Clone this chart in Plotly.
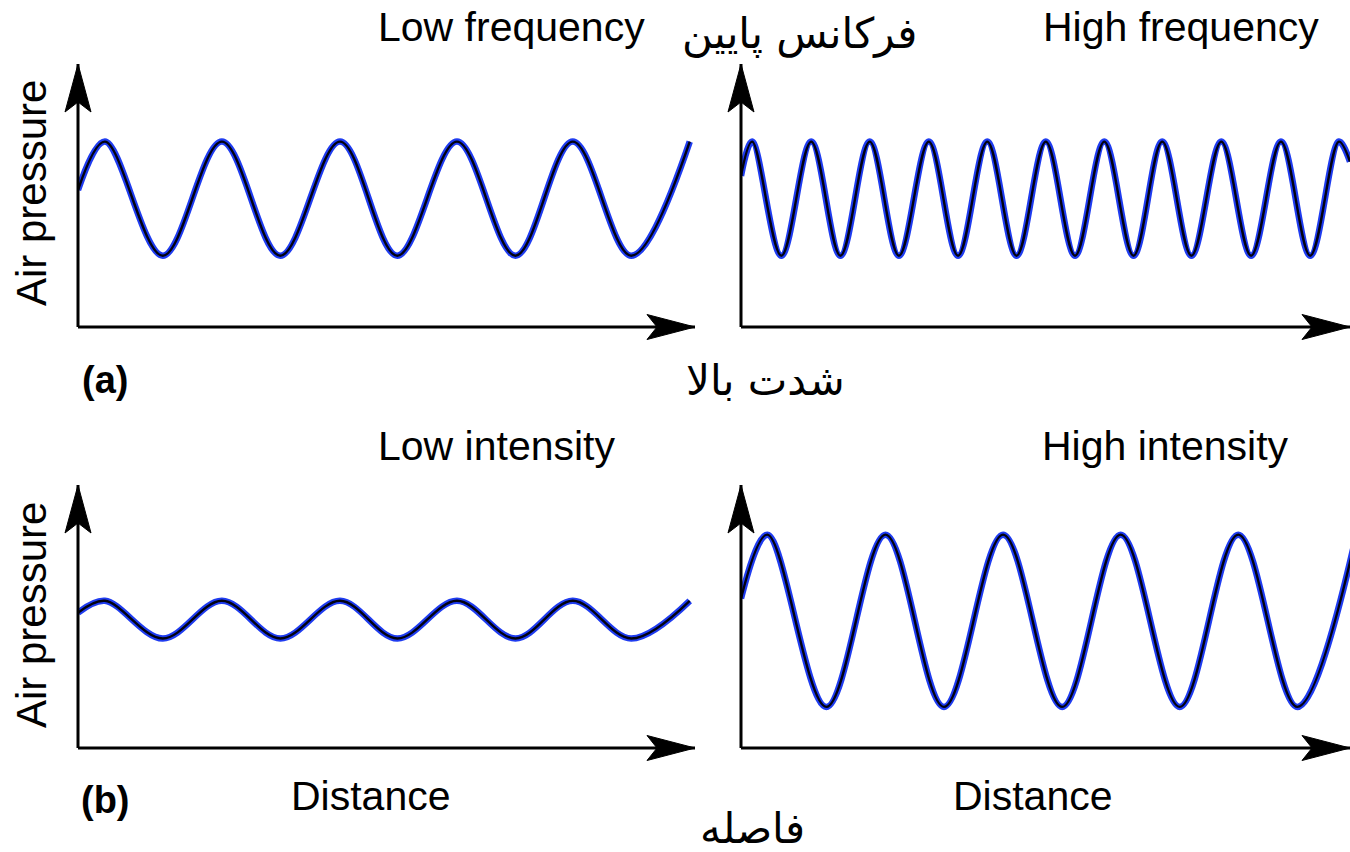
import plotly.graph_objects as go

FIG_W, FIG_H = 1350, 852

# Turning points (start, crests, troughs, end) of each pressure wave.
# x: distance along the axis, y: air pressure (ambient level about 2.25)
low_freq_x = [0.00, 0.46, 1.45, 2.46, 3.46, 4.48, 5.46, 6.48, 7.48, 8.46, 9.46, 10.46]
low_freq_y = [2.40, 3.25, 1.25, 3.25, 1.25, 3.25, 1.25, 3.25, 1.25, 3.25, 1.25, 3.25]

high_freq_x = [0.00, 0.19, 0.69, 1.20, 1.70, 2.20, 2.70, 3.21, 3.71, 4.21, 4.71, 5.21,
               5.71, 6.21, 6.71, 7.20, 7.70, 8.21, 8.72, 9.23, 9.73, 10.22, 10.41]
high_freq_y = [2.65, 3.25, 1.25, 3.25, 1.25, 3.25, 1.25, 3.25, 1.25, 3.25, 1.25, 3.25,
               1.25, 3.25, 1.25, 3.25, 1.25, 3.25, 1.25, 3.25, 1.25, 3.25, 2.90]

low_int_x = [0.00, 0.46, 1.45, 2.46, 3.46, 4.48, 5.46, 6.48, 7.48, 8.46, 9.46, 10.46]
low_int_y = [2.37, 2.58, 1.92, 2.58, 1.92, 2.58, 1.92, 2.58, 1.92, 2.58, 1.92, 2.58]

high_int_x = [0.00, 0.45, 1.46, 2.47, 3.47, 4.48, 5.49, 6.49, 7.50, 8.50, 9.51, 10.52]
high_int_y = [2.62, 3.74, 0.72, 3.74, 0.72, 3.74, 0.72, 3.74, 0.72, 3.74, 0.72, 3.74]

# Text
panel_titles = ["Low frequency", "High frequency", "Low intensity", "High intensity"]
y_label = "Air pressure"
x_label = "Distance"
part_labels = ["(a)", "(b)"]
fa_titles = ["فرکانس پایین", "شدت بالا", "فاصله"]

# Axis extents (distance units / pressure units)
X_MAX_LEFT, X_MAX_RIGHT, Y_MAX = 10.55, 10.41, 4.61


def px_x(p):
    return p / FIG_W


def px_y(p):
    return 1 - p / FIG_H


panels = [
    dict(x=low_freq_x, y=low_freq_y, dom_x=(78, 695), dom_y=(327, 64), xmax=X_MAX_LEFT),
    dict(x=high_freq_x, y=high_freq_y, dom_x=(741, 1350), dom_y=(327, 64), xmax=X_MAX_RIGHT),
    dict(x=low_int_x, y=low_int_y, dom_x=(78, 695), dom_y=(748, 485), xmax=X_MAX_LEFT),
    dict(x=high_int_x, y=high_int_y, dom_x=(741, 1350), dom_y=(748, 485), xmax=X_MAX_RIGHT),
]

fig = go.Figure()
shapes = []
layout_axes = {}

for i, p in enumerate(panels, start=1):
    xa = "x" if i == 1 else f"x{i}"
    ya = "y" if i == 1 else f"y{i}"
    xkey = "xaxis" if i == 1 else f"xaxis{i}"
    ykey = "yaxis" if i == 1 else f"yaxis{i}"

    x0p, x1p = px_x(p["dom_x"][0]), px_x(p["dom_x"][1])
    y0p, y1p = px_y(p["dom_y"][0]), px_y(p["dom_y"][1])

    layout_axes[xkey] = dict(
        domain=[x0p, x1p], range=[0, p["xmax"]], anchor=ya,
        showgrid=False, zeroline=False, showline=False,
        showticklabels=False, ticks="", fixedrange=True,
    )
    layout_axes[ykey] = dict(
        domain=[y0p, y1p], range=[0, Y_MAX], anchor=xa,
        showgrid=False, zeroline=False, showline=False,
        showticklabels=False, ticks="", fixedrange=True,
    )

    # blue halo under a dark core
    fig.add_trace(go.Scatter(
        x=p["x"], y=p["y"], xaxis=xa, yaxis=ya, mode="lines",
        line=dict(color="#1f3cf0", width=6.5, shape="spline", smoothing=1),
        hoverinfo="skip", showlegend=False,
    ))
    fig.add_trace(go.Scatter(
        x=p["x"], y=p["y"], xaxis=xa, yaxis=ya, mode="lines",
        line=dict(color="#020210", width=2.4, shape="spline", smoothing=1),
        hoverinfo="skip", showlegend=False,
    ))

    # axis lines along the subplot's left and bottom edges
    shapes.append(dict(type="line", xref="paper", yref="paper",
                       x0=x0p, y0=y0p, x1=x1p, y1=y0p,
                       line=dict(color="black", width=3)))
    shapes.append(dict(type="line", xref="paper", yref="paper",
                       x0=x0p, y0=y0p, x1=x0p, y1=y1p,
                       line=dict(color="black", width=3)))
    # arrowheads (pixel-sized, anchored at the axis ends)
    shapes.append(dict(type="path", xref="paper", yref="paper",
                       xsizemode="pixel", ysizemode="pixel",
                       xanchor=x1p, yanchor=y0p,
                       path="M0,0 L-48,12.5 L-38,0 L-48,-12.5 Z",
                       fillcolor="black", line=dict(color="black", width=1)))
    shapes.append(dict(type="path", xref="paper", yref="paper",
                       xsizemode="pixel", ysizemode="pixel",
                       xanchor=x0p, yanchor=y1p,
                       path="M0,0 L13,-48 L0,-38 L-13,-48 Z",
                       fillcolor="black", line=dict(color="black", width=1)))

EN_FONT = "Liberation Sans, Arial, sans-serif"
FA_FONT = "DejaVu Sans, sans-serif"

annotations = []


def add_text(text, x, y, size, family=EN_FONT, angle=0, bold=False):
    annotations.append(dict(
        text=f"<b>{text}</b>" if bold else text,
        x=px_x(x), y=px_y(y), xref="paper", yref="paper",
        xanchor="center", yanchor="middle", showarrow=False,
        textangle=angle, font=dict(family=family, size=size, color="black"),
    ))


add_text(panel_titles[0], 511, 27, 41)
add_text(panel_titles[1], 1181, 27, 41)
add_text(panel_titles[2], 497, 446, 41)
add_text(panel_titles[3], 1165, 446, 41)
add_text(y_label, 31, 193, 42, angle=-90)
add_text(y_label, 31, 615, 42, angle=-90)
add_text(x_label, 371, 796, 41)
add_text(x_label, 1033, 796, 41)
add_text(part_labels[0], 105, 380, 38, bold=True)
add_text(part_labels[1], 105, 800, 38, bold=True)
add_text(fa_titles[0], 799, 34, 42, family=FA_FONT)
add_text(fa_titles[1], 766, 380, 42, family=FA_FONT)
add_text(fa_titles[2], 752, 828, 42, family=FA_FONT)

fig.update_layout(
    width=FIG_W, height=FIG_H,
    margin=dict(l=0, r=0, t=0, b=0),
    paper_bgcolor="white", plot_bgcolor="white",
    shapes=shapes, annotations=annotations,
    showlegend=False,
    **layout_axes,
)

fig.write_html("out.html", config={"displayModeBar": False})
